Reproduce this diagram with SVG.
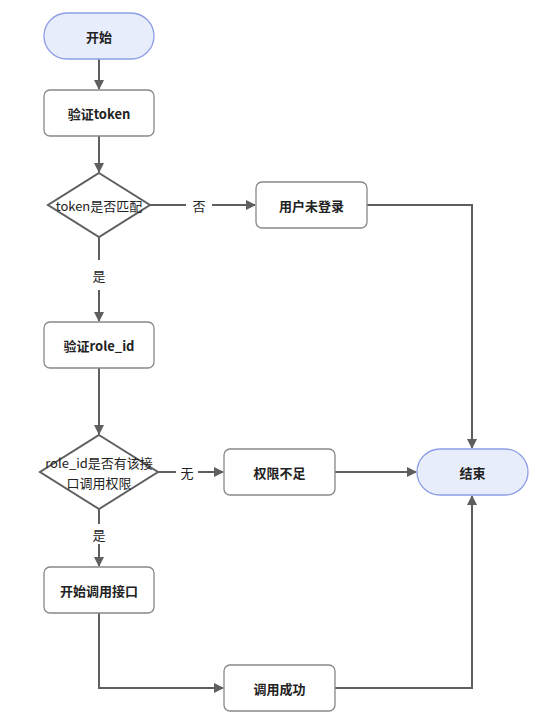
<svg xmlns="http://www.w3.org/2000/svg" width="558" height="724" viewBox="0 0 558 724">
<style>
.pill{fill:#e8edfb;stroke:#8d9ee6;stroke-width:1.3}
.box{fill:#fff;stroke:#888;stroke-width:1.3}
.dia{fill:#fff;stroke:#5f5f5f;stroke-width:2}
.t{font-family:"Noto Sans CJK SC","Noto Sans",sans-serif;font-size:13px;fill:#222;text-anchor:middle;dominant-baseline:central}
.b{font-weight:bold}
.e{fill:none;stroke:#5f5f5f;stroke-width:2}
.lb{fill:#fff}
</style>
<defs>
<marker id="a" markerWidth="10" markerHeight="10" refX="9" refY="5" orient="auto" markerUnits="userSpaceOnUse">
<path d="M0,0 L10,5 L0,10 Z" fill="#5f5f5f"/>
</marker>
</defs>
<rect width="558" height="724" fill="#fff"/>
<g id="connectors">
<path class="e" d="M99,59 V89" marker-end="url(#a)"/>
<path class="e" d="M99,136 V172" marker-end="url(#a)"/>
<path class="e" d="M150,205 H255" marker-end="url(#a)"/>
<path class="e" d="M367,205 H472 V448" marker-end="url(#a)"/>
<path class="e" d="M99,237 V321" marker-end="url(#a)"/>
<path class="e" d="M99,368 V434" marker-end="url(#a)"/>
<path class="e" d="M158,472 H223" marker-end="url(#a)"/>
<path class="e" d="M335,472 H416" marker-end="url(#a)"/>
<path class="e" d="M99,509 V566" marker-end="url(#a)"/>
<path class="e" d="M99,613 V688 H223" marker-end="url(#a)"/>
<path class="e" d="M335,688 H472 V496" marker-end="url(#a)"/>
<rect class="lb" x="186" y="196" width="26" height="18"/>
<text class="t" x="199" y="205">否</text>
<rect class="lb" x="88" y="260" width="22" height="30"/>
<text class="t" x="99" y="275">是</text>
<rect class="lb" x="176" y="463" width="22" height="18"/>
<text class="t" x="187" y="472">无</text>
<rect class="lb" x="88" y="524" width="22" height="20"/>
<text class="t" x="99" y="534">是</text>
</g>
<g id="start">
<rect class="pill" x="44" y="13" width="110" height="46" rx="23"/>
<text class="t b" x="99" y="36">开始</text>
</g>
<g id="verifyToken">
<rect class="box" x="44" y="90" width="110" height="46" rx="6"/>
<text class="t b" x="99" y="113">验证token</text>
</g>
<g id="tokenMatch">
<polygon class="dia" points="99,173 150,205 99,237 48,205"/>
<text class="t" x="99" y="205">token是否匹配</text>
</g>
<g id="notLogin">
<rect class="box" x="256" y="182" width="111" height="46" rx="6"/>
<text class="t b" x="311.5" y="205">用户未登录</text>
</g>
<g id="verifyRole">
<rect class="box" x="44" y="322" width="110" height="46" rx="6"/>
<text class="t b" x="99" y="345">验证role_id</text>
</g>
<g id="rolePerm">
<polygon class="dia" points="99,435 158,472 99,509 40,472"/>
<text class="t" x="99" y="462">role_id是否有该接</text>
<text class="t" x="99" y="482">口调用权限</text>
</g>
<g id="noPerm">
<rect class="box" x="224" y="449" width="111" height="46" rx="6"/>
<text class="t b" x="279.5" y="472">权限不足</text>
</g>
<g id="end">
<rect class="pill" x="417" y="449" width="111" height="46" rx="23"/>
<text class="t b" x="472.5" y="472">结束</text>
</g>
<g id="callApi">
<rect class="box" x="44" y="567" width="110" height="46" rx="6"/>
<text class="t b" x="99" y="590">开始调用接口</text>
</g>
<g id="success">
<rect class="box" x="224" y="665" width="111" height="46" rx="6"/>
<text class="t b" x="279.5" y="688">调用成功</text>
</g>
</svg>
